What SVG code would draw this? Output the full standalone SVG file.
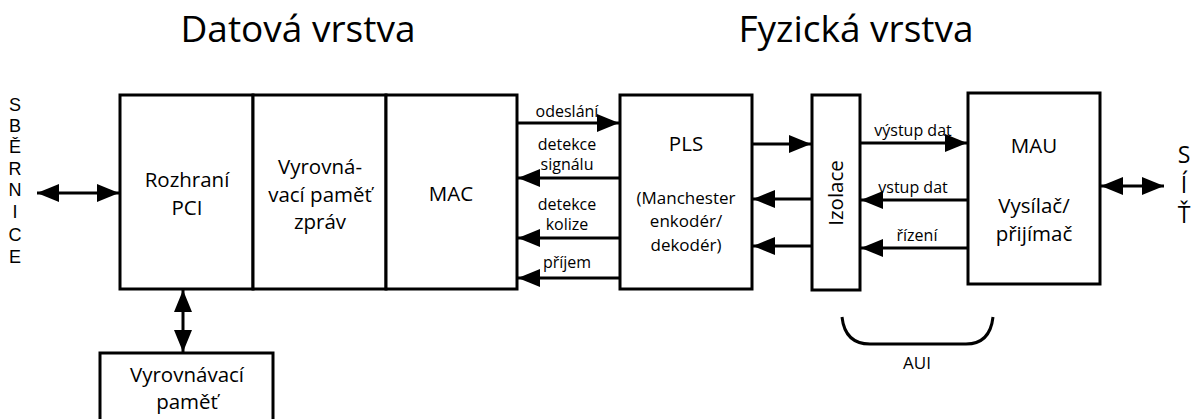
<svg xmlns="http://www.w3.org/2000/svg" width="1202" height="419" viewBox="0 0 1202 419">
  <style>
    text { font-family: "Open Sans", "Noto Sans", sans-serif; fill: #000; text-anchor: middle; }
    .title { font-size: 37px; }
    .box { fill: #fff; stroke: #000; stroke-width: 3; }
    .lbl { font-size: 20.5px; }
    .sm { font-size: 16px; }
    .mid { font-size: 17px; }
    .side { font-family: "Liberation Sans", "Open Sans", sans-serif; font-size: 18px; }
    .big { font-size: 23px; }
    .wire { stroke: #000; stroke-width: 3; fill: none; }
  </style>
  <defs>
    <marker id="ah" viewBox="0 0 22 18" refX="22" refY="9" markerWidth="22" markerHeight="18" markerUnits="userSpaceOnUse" orient="auto-start-reverse">
      <path d="M0,0 L22,9 L0,18 Z" fill="#000"/>
    </marker>
  </defs>

  <rect width="1202" height="419" fill="#fff"/>

  <text class="title" x="298" y="42">Datová vrstva</text>
  <text class="title" x="856" y="42">Fyzická vrstva</text>

  <!-- bus label, written one letter per line -->
  <g id="sbernice">
    <text class="side" x="15" y="111"><tspan x="15">S</tspan><tspan x="15" dy="21">B</tspan><tspan x="15" dy="21">Ě</tspan><tspan x="15" dy="22">R</tspan><tspan x="15" dy="21">N</tspan><tspan x="15" dy="22">I</tspan><tspan x="15" dy="23">C</tspan><tspan x="15" dy="22">E</tspan></text>
  </g>

  <!-- network label, written one letter per line -->
  <g id="sit">
    <text class="big" x="1184" y="163"><tspan x="1184">S</tspan><tspan x="1184" dy="30">Í</tspan><tspan x="1184" dy="30">Ť</tspan></text>
  </g>

  <g id="rozhrani-pci">
    <rect class="box" x="120" y="95" width="133" height="194"/>
    <text class="lbl" x="187" y="187">Rozhraní</text>
    <text class="lbl" x="187" y="215">PCI</text>
  </g>

  <g id="vyrovnavaci-pamet-zprav">
    <rect class="box" x="253" y="95" width="133" height="194"/>
    <text class="lbl" x="320" y="174">Vyrovná-</text>
    <text class="lbl" x="320" y="202">vací paměť</text>
    <text class="lbl" x="320" y="229">zpráv</text>
  </g>

  <g id="mac">
    <rect class="box" x="386" y="95" width="131" height="194"/>
    <text class="lbl" x="451" y="201">MAC</text>
  </g>

  <g id="pls">
    <rect class="box" x="620" y="95" width="132" height="194"/>
    <text class="lbl" x="686" y="151">PLS</text>
    <text class="mid" x="686" y="204">(Manchester</text>
    <text class="mid" x="686" y="227">enkodér/</text>
    <text class="mid" x="686" y="251">dekodér)</text>
  </g>

  <g id="izolace">
    <rect class="box" x="812" y="95" width="48" height="195"/>
    <text class="lbl" transform="translate(843 193) rotate(-90)">Izolace</text>
  </g>

  <g id="mau">
    <rect class="box" x="968" y="93" width="132" height="191"/>
    <text class="lbl" x="1034" y="153">MAU</text>
    <text class="lbl" x="1034" y="213">Vysílač/</text>
    <text class="lbl" x="1034" y="241">přijímač</text>
  </g>

  <g id="vyrovnavaci-pamet">
    <rect class="box" x="100" y="353" width="173" height="80"/>
    <text class="lbl" x="187" y="382">Vyrovnávací</text>
    <text class="lbl" x="187" y="409">paměť</text>
  </g>

  <g id="connectors">
    <!-- bus to PCI -->
    <line class="wire" x1="37" y1="193" x2="119" y2="193" marker-start="url(#ah)" marker-end="url(#ah)"/>
    <!-- PCI to buffer -->
    <line class="wire" x1="183" y1="290" x2="183" y2="352" marker-start="url(#ah)" marker-end="url(#ah)"/>
    <!-- MAC <-> PLS -->
    <line class="wire" x1="518" y1="123" x2="619" y2="123" marker-end="url(#ah)"/>
    <line class="wire" x1="619" y1="178" x2="518" y2="178" marker-end="url(#ah)"/>
    <line class="wire" x1="619" y1="238" x2="518" y2="238" marker-end="url(#ah)"/>
    <line class="wire" x1="619" y1="278" x2="518" y2="278" marker-end="url(#ah)"/>
    <!-- PLS <-> Izolace -->
    <line class="wire" x1="753" y1="144" x2="811" y2="144" marker-end="url(#ah)"/>
    <line class="wire" x1="811" y1="199" x2="753" y2="199" marker-end="url(#ah)"/>
    <line class="wire" x1="811" y1="246" x2="753" y2="246" marker-end="url(#ah)"/>
    <!-- Izolace <-> MAU -->
    <line class="wire" x1="861" y1="143" x2="967" y2="143" marker-end="url(#ah)"/>
    <line class="wire" x1="967" y1="200" x2="861" y2="200" marker-end="url(#ah)"/>
    <line class="wire" x1="967" y1="248" x2="861" y2="248" marker-end="url(#ah)"/>
    <!-- MAU to network -->
    <line class="wire" x1="1101" y1="186" x2="1164" y2="186" marker-start="url(#ah)" marker-end="url(#ah)"/>
    <!-- AUI bracket -->
    <path class="wire" d="M842,317 Q845,344 870,344 L966,344 Q990,344 993,317"/>
  </g>

  <g id="labels">
    <text class="sm" x="567" y="117">odeslání</text>
    <text class="sm" x="567" y="150">detekce</text>
    <text class="sm" x="567" y="170">signálu</text>
    <text class="sm" x="567" y="210">detekce</text>
    <text class="sm" x="567" y="230">kolize</text>
    <text class="sm" x="567" y="268">příjem</text>
    <text class="sm" x="913" y="136">výstup dat</text>
    <text class="sm" x="913" y="193">vstup dat</text>
    <text class="sm" x="917" y="241">řízení</text>
    <text class="mid" x="917" y="369">AUI</text>
  </g>
</svg>
